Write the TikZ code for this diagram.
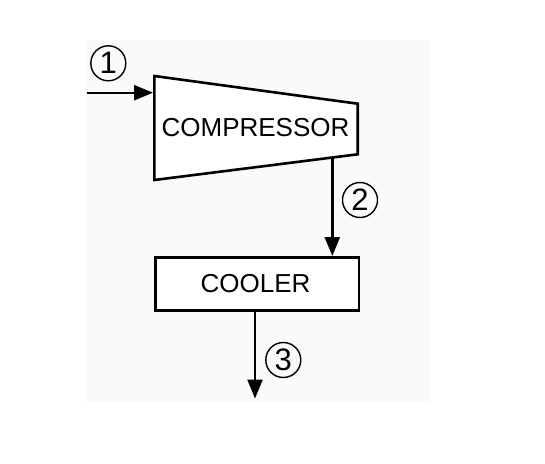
\documentclass[tikz,border=0pt]{standalone}
\usepackage{fontspec}
\setmainfont{Liberation Sans}
\usetikzlibrary{arrows.meta}
\begin{document}
\begin{tikzpicture}[x=1pt,y=-1pt,
  unit/.style={draw=black,line width=2.6pt,line join=miter},
  lbl/.style={font=\fontsize{26}{26}\selectfont,inner sep=0pt},
  flow/.style={line width=2.4pt,-{Triangle[length=19pt,width=15pt]}},
  num/.style={draw=black,circle,line width=1.4pt,minimum size=35pt,inner sep=0pt,font=\fontsize{31}{31}\selectfont}]
\useasboundingbox (0,0) rectangle (545,463);
\fill[white] (0,0) rectangle (545,463);
\fill[black!2] (86,40) rectangle (430,402);
% compressor
\coordinate (c1) at (154.3,76);
\coordinate (c2) at (357.7,103.7);
\coordinate (c3) at (357.7,154.3);
\coordinate (c4) at (154.3,180);
\draw[unit,fill=white] (c1) -- (c2) -- (c3) -- (c4) -- cycle;
\node[lbl] (comp) at (255.5,128) {COMPRESSOR};
% cooler
\node[unit,fill=white,minimum width=203.4pt,minimum height=53.3pt,inner sep=0pt,anchor=north west] (cool) at (154.3,256) {};
\node[lbl] (cooltxt) at (255.5,283.5) {COOLER};
% flows
\coordinate (in) at (87.3,92.7);
\coordinate (inend) at (153,92.7);
\draw[flow] (in) -- (inend);
\coordinate (cout) at (332.3,157);
\draw[flow] (cout) -- (cout |- cool.north);
\coordinate (out) at (255,398.5);
\draw[flow] (cool.south -| out) -- (out);
% labels
\node[num] (n1) at (108.3,63.3) {1};
\node[num] (n2) at (360,200) {2};
\node[num] (n3) at (283.3,360) {3};
\end{tikzpicture}
\end{document}
